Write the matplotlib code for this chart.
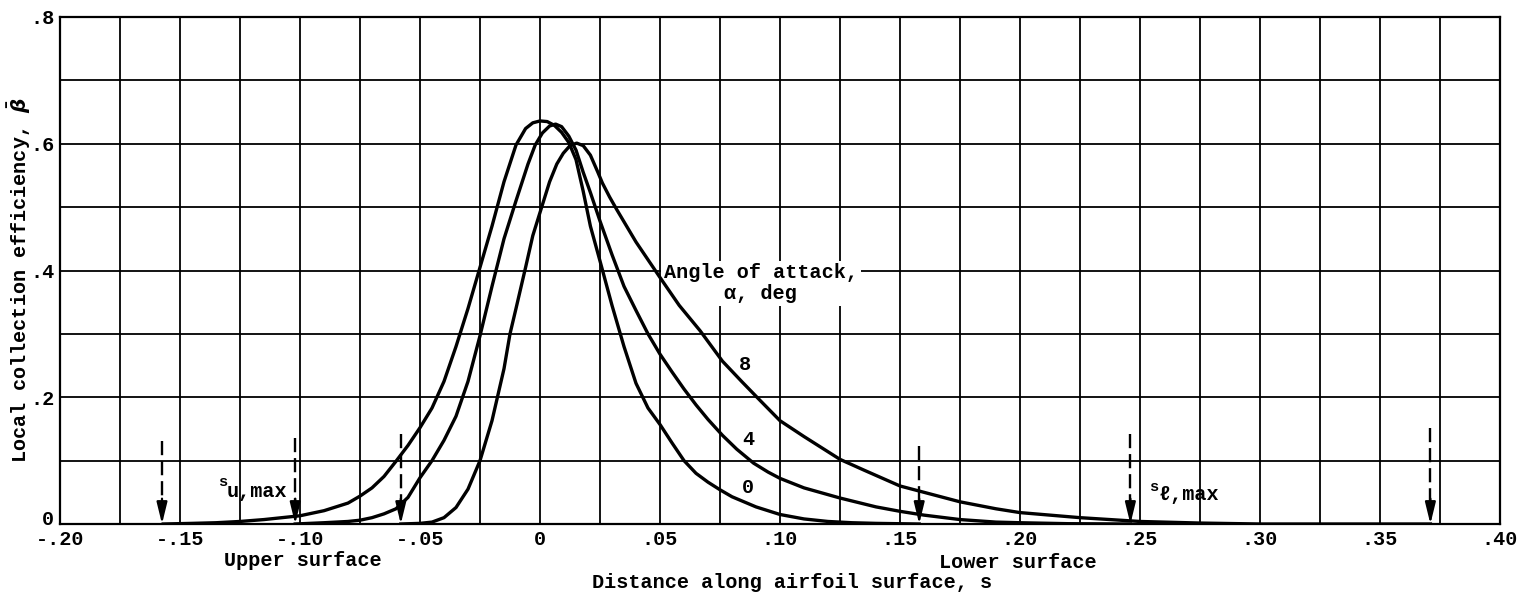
import matplotlib.pyplot as plt
import matplotlib.transforms as mtransforms
import numpy as np

FONT = ['Liberation Mono', 'DejaVu Sans Mono']
plt.rcParams['font.family'] = FONT
plt.rcParams['font.size'] = 14.5
plt.rcParams['font.weight'] = 'bold'

# angle of attack 0 deg
s0 = [-0.157, -0.145, -0.135, -0.125, -0.115, -0.10, -0.09, -0.08, -0.075, -0.07,
      -0.065, -0.06, -0.055, -0.05, -0.045, -0.04, -0.035, -0.03, -0.025, -0.02,
      -0.015, -0.01, -0.006, -0.003, 0.0, 0.003, 0.006, 0.009, 0.012, 0.015,
      0.018, 0.021, 0.025, 0.03, 0.035, 0.04, 0.045, 0.05, 0.055, 0.06,
      0.065, 0.07, 0.075, 0.08, 0.09, 0.10, 0.11, 0.12, 0.13, 0.14, 0.158]
b0 = [0.0, 0.001, 0.002, 0.004, 0.007, 0.013, 0.021, 0.033, 0.044, 0.057,
      0.075, 0.099, 0.124, 0.152, 0.183, 0.225, 0.28, 0.34, 0.405, 0.47,
      0.54, 0.598, 0.624, 0.633, 0.636, 0.635, 0.629, 0.618, 0.602, 0.575,
      0.525, 0.47, 0.415, 0.345, 0.28, 0.222, 0.183, 0.157, 0.128, 0.10,
      0.08, 0.066, 0.054, 0.043, 0.027, 0.015, 0.008, 0.004, 0.002, 0.001, 0.0]

# angle of attack 4 deg
s4 = [-0.102, -0.09, -0.08, -0.075, -0.07, -0.065, -0.06, -0.055, -0.05, -0.045,
      -0.04, -0.035, -0.03, -0.025, -0.02, -0.015, -0.01, -0.005, -0.002, 0.001,
      0.004, 0.0065, 0.009, 0.012, 0.015, 0.018, 0.021, 0.025, 0.03, 0.035,
      0.04, 0.045, 0.05, 0.055, 0.06, 0.065, 0.07, 0.076, 0.082, 0.089,
      0.095, 0.10, 0.11, 0.125, 0.14, 0.15, 0.16, 0.175, 0.19, 0.20, 0.22, 0.246]
b4 = [0.0, 0.002, 0.004, 0.006, 0.01, 0.016, 0.024, 0.042, 0.073, 0.10,
      0.132, 0.17, 0.225, 0.297, 0.375, 0.45, 0.51, 0.568, 0.598, 0.617,
      0.628, 0.631, 0.627, 0.612, 0.59, 0.555, 0.523, 0.478, 0.425, 0.375,
      0.337, 0.30, 0.268, 0.24, 0.213, 0.188, 0.165, 0.14, 0.118, 0.096,
      0.082, 0.072, 0.057, 0.041, 0.027, 0.02, 0.014, 0.007, 0.003, 0.002, 0.0005, 0.0]

# angle of attack 8 deg
s8 = [-0.058, -0.05, -0.045, -0.04, -0.035, -0.03, -0.025, -0.02, -0.015, -0.0125,
      -0.01, -0.006, -0.003, 0.0007, 0.004, 0.007, 0.0097, 0.0125, 0.0153, 0.018,
      0.021, 0.024, 0.026, 0.029, 0.032, 0.04, 0.05, 0.058, 0.0667, 0.076, 0.084,
      0.0917, 0.10, 0.11, 0.125, 0.135, 0.15, 0.165, 0.175, 0.19, 0.20,
      0.225, 0.25, 0.275, 0.30, 0.371]
b8 = [0.0, 0.001, 0.003, 0.01, 0.026, 0.055, 0.10, 0.163, 0.245, 0.30,
      0.34, 0.405, 0.455, 0.50, 0.54, 0.568, 0.585, 0.597, 0.601, 0.597,
      0.582, 0.556, 0.538, 0.516, 0.496, 0.445, 0.389, 0.345, 0.305, 0.257, 0.225,
      0.195, 0.163, 0.138, 0.102, 0.085, 0.06, 0.045, 0.035, 0.024, 0.018,
      0.01, 0.004, 0.0015, 0.0, 0.0]

# impingement limits (dashed arrows)
arrow_s = [-0.1575, -0.102, -0.058, 0.158, 0.246, 0.371]
arrow_top = [0.131, 0.136, 0.142, 0.123, 0.142, 0.152]

xticks = [-0.20, -0.15, -0.10, -0.05, 0.0, 0.05, 0.10, 0.15, 0.20, 0.25, 0.30, 0.35, 0.40]
xlabels = ['-.20', '-.15', '-.10', '-.05', '0', '.05', '.10', '.15', '.20', '.25', '.30', '.35', '.40']
yticks = [0.0, 0.2, 0.4, 0.6, 0.8]
ylabels = ['0', '.2', '.4', '.6', '.8']

fig = plt.figure(figsize=(15.2, 5.93), dpi=100)
ax = fig.add_axes([60/1520, 1-524/593, 1440/1520, 507/593])
ax.set_xlim(-0.2, 0.4)
ax.set_ylim(0, 0.8)

for xv in np.arange(-0.2, 0.4001, 0.025):
    ax.axvline(xv, color='k', lw=1.3, zorder=1)
for yv in np.arange(0, 0.8001, 0.1):
    ax.axhline(yv, color='k', lw=1.3, zorder=1)

for s, b in [(s0, b0), (s4, b4), (s8, b8)]:
    ax.plot(s, b, color='k', lw=2.4, zorder=4, solid_joinstyle='round')

for xs, top in zip(arrow_s, arrow_top):
    ax.plot([xs, xs], [top, 0.03], color='k', lw=1.7, ls=(0, (6, 2.5)), zorder=4)
    ax.annotate('', xy=(xs, 0.0), xytext=(xs, 0.04),
                arrowprops=dict(arrowstyle='-|>,head_length=0.9,head_width=0.22',
                                color='k', lw=1.6, shrinkA=0, shrinkB=0), zorder=5)

ax.set_xticks(xticks)
ax.set_xticklabels(xlabels)
ax.set_yticks(yticks)
ax.set_yticklabels(ylabels)
ax.tick_params(length=0, pad=4)
for sp in ax.spines.values():
    sp.set_linewidth(1.6)

# lift the y "0" a little so it clears "-.20"
zero_lbl = ax.get_yticklabels()[0]
zero_lbl.set_transform(zero_lbl.get_transform() +
                       mtransforms.ScaledTranslation(0, 5/72, fig.dpi_scale_trans))

# curve labels
ax.text(0.0854, 0.251, '8', ha='center', va='center', zorder=6)
ax.text(0.0867, 0.133, '4', ha='center', va='center', zorder=6)
ax.text(0.0867, 0.057, '0', ha='center', va='center', zorder=6)
ax.text(0.092, 0.38, 'Angle of attack,\nα, deg', ha='center', va='center',
        linespacing=1.1, zorder=3,
        bbox=dict(facecolor='white', edgecolor='none', pad=2))

# limit labels
ax.text(-0.1304, 0.066, 's', ha='right', va='center', fontsize=11)
ax.text(-0.1304, 0.051, 'u,max', ha='left', va='center')
ax.text(0.2575, 0.058, 's', ha='right', va='center', fontsize=11)
ax.text(0.2575, 0.046, 'ℓ,max', ha='left', va='center')

ax.text(-0.099, -0.057, 'Upper surface', ha='center', va='center', clip_on=False)
ax.text(0.199, -0.06, 'Lower surface', ha='center', va='center', clip_on=False)
ax.text(0.105, -0.093, 'Distance along airfoil surface, s', ha='center', va='center', clip_on=False)
fig.text(19/1520, 1-280/593, r'Local collection efficiency, $\bar{\beta}$',
         rotation=90, ha='center', va='center')

fig.savefig('out.png', dpi=100, facecolor='white')
